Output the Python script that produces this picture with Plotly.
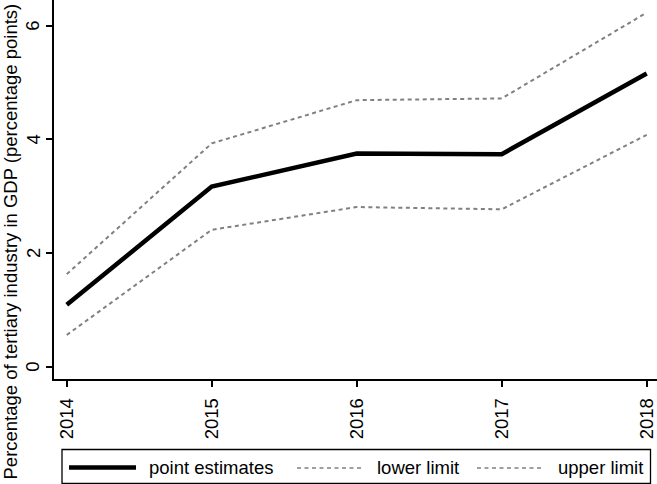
import plotly.graph_objects as go

years = [2014, 2015, 2016, 2017, 2018]
point_estimates = [1.09, 3.17, 3.75, 3.74, 5.16]
lower_limit = [0.56, 2.41, 2.81, 2.77, 4.08]
upper_limit = [1.63, 3.93, 4.69, 4.72, 6.23]
y_ticks = [0, 2, 4, 6]
legend_labels = ["point estimates", "lower limit", "upper limit"]
y_title = "Percentage of tertiary industry in GDP (percentage points)"

W, H = 657, 484
ML, MR, MT, MB = 54, 0, 0, 105
PW, PH = W - ML - MR, H - MT - MB

def pxx(x):
    return (x - ML) / PW

def pxy(y):
    return (H - MB - y) / PH

FONT = "Liberation Sans, Arial, Helvetica, sans-serif"
GRAY = "#808080"
DASH = "4px,3.5px"
FS = 18.5

fig = go.Figure()
fig.add_trace(go.Scatter(x=years, y=upper_limit, mode="lines", name=legend_labels[2],
                         line=dict(color=GRAY, width=2, dash=DASH)))
fig.add_trace(go.Scatter(x=years, y=lower_limit, mode="lines", name=legend_labels[1],
                         line=dict(color=GRAY, width=2, dash=DASH)))
fig.add_trace(go.Scatter(x=years, y=point_estimates, mode="lines", name=legend_labels[0],
                         line=dict(color="black", width=4.5)))

# manual legend
shapes = [
    dict(type="rect", xref="paper", yref="paper", x0=pxx(62), x1=pxx(650.5),
         y0=pxy(483.3), y1=pxy(449.5), line=dict(color="black", width=1.3)),
    dict(type="line", xref="paper", yref="paper", x0=pxx(69), x1=pxx(136),
         y0=pxy(467.5), y1=pxy(467.5), line=dict(color="black", width=4.5)),
    dict(type="line", xref="paper", yref="paper", x0=pxx(297), x1=pxx(364),
         y0=pxy(468), y1=pxy(468), line=dict(color=GRAY, width=1.5, dash=DASH)),
    dict(type="line", xref="paper", yref="paper", x0=pxx(477), x1=pxx(544),
         y0=pxy(468), y1=pxy(468), line=dict(color=GRAY, width=1.5, dash=DASH)),
]
annotations = []
for lbl, xl in zip(legend_labels, [146.5, 375, 556]):
    annotations.append(dict(text=lbl, xref="paper", yref="paper", x=pxx(xl), y=pxy(467),
                            xanchor="left", yanchor="middle", showarrow=False,
                            font=dict(family=FONT, size=FS, color="black")))
annotations.append(dict(text=y_title, xref="paper", yref="paper", x=pxx(9.5), y=pxy(242),
                        xanchor="center", yanchor="middle", showarrow=False, textangle=-90,
                        font=dict(family=FONT, size=FS, color="black")))
# rotated y tick labels
for v in y_ticks:
    annotations.append(dict(text=str(v), xref="paper", yref="y", x=pxx(33), y=v,
                            xanchor="center", yanchor="middle", showarrow=False, textangle=-90,
                            font=dict(family=FONT, size=FS, color="black")))

fig.update_layout(
    width=W, height=H,
    margin=dict(l=ML, r=MR, t=MT, b=MB, autoexpand=False),
    plot_bgcolor="white", paper_bgcolor="white",
    showlegend=False,
    font=dict(family=FONT, size=FS, color="black"),
    shapes=shapes, annotations=annotations,
)
fig.update_xaxes(
    range=[2013.912, 2018.071], tickvals=years, ticktext=[str(y) for y in years],
    tickangle=-90, ticks="outside", ticklen=6, tickwidth=1.5, tickcolor="black",
    showline=True, linecolor="black", linewidth=1.5, showgrid=False, zeroline=False,
    ticklabelstandoff=4, tickfont=dict(size=FS), automargin=False,
)
fig.update_yaxes(
    range=[-0.215, 6.452], tickvals=y_ticks, showticklabels=False,
    ticks="outside", ticklen=6, tickwidth=1.5, tickcolor="black",
    showline=True, linecolor="black", linewidth=1.5, showgrid=False, zeroline=False,
    automargin=False,
)
fig.write_html(
    "out.html",
    config={"displayModeBar": False},
    post_script="document.body.style.margin='0';document.body.style.padding='0';"
                "document.documentElement.style.overflow='hidden';",
)
